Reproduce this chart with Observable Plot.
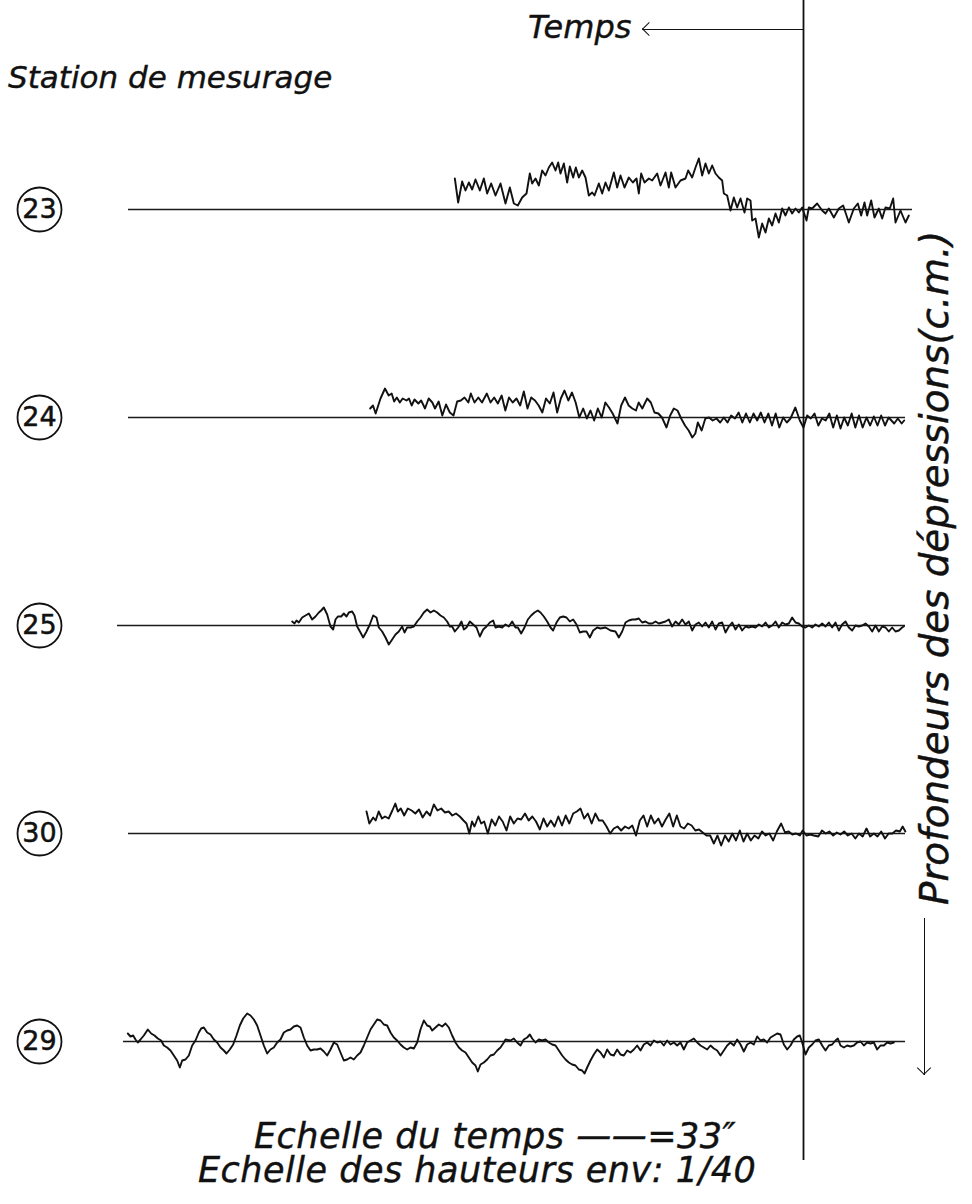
<!DOCTYPE html>
<html>
<head>
<meta charset="utf-8">
<script src="https://cdn.jsdelivr.net/npm/d3@7"></script>
<script src="https://cdn.jsdelivr.net/npm/@observablehq/plot@0.6"></script>
<style>
  body { margin: 0; background: #fff; }
  #page { position: relative; width: 972px; height: 1204px; overflow: hidden; background: #fff; color: #111;
          font-family: "DejaVu Sans", sans-serif; font-style: italic; }
  #chart, #refline { position: absolute; left: 0; top: 0; }
  #refline { pointer-events: none; }
  .lbl { position: absolute; white-space: nowrap; -webkit-text-stroke: 0.4px #111; }
  .arrow { position: absolute; height: 0; border-top: 1.7px solid #111; }
  .arrow::before { content: ""; position: absolute; left: 2px; top: -6.4px; width: 9px; height: 9px;
                   border-left: 1.7px solid #111; border-bottom: 1.7px solid #111; transform: rotate(45deg); }
</style>
</head>
<body>
<div id="page">
  <div id="chart"></div>
  <div id="refline"></div>
  <div class="lbl" style="left:528px; top:11px; font-size:32px; line-height:32px;">Temps</div>
  <div class="arrow" style="left:642px; top:29px; width:161px;"></div>
  <div class="lbl" style="left:8px; top:62px; font-size:31px; line-height:31px;">Station de mesurage</div>
  <div class="lbl" style="left:916px; top:1075px; font-size:38.8px; line-height:38.8px; transform-origin:0 0; transform:rotate(-90deg); display:flex; align-items:flex-start;">
    <span class="arrow" style="position:relative; width:157px; margin-top:8px;"></span><span style="margin-left:13px;">Profondeurs des dépressions(c.m.)</span>
  </div>
  <div class="lbl" style="left:198px; top:1119px; font-size:35px; line-height:34px; letter-spacing:0.5px; white-space:pre; text-indent:56px;">Echelle du temps ——=33″
Echelle des hauteurs env: 1/40</div>
</div>
<script>
// Stations (top to bottom)
const stations = ["23", "24", "25", "30", "29"];

// Reference lines: time (s) at the left and right ends (time runs leftwards, 0 = vertical reference line)
const baselineStart = [405, 405, 411.6, 405, 408];
const baselineEnd = [-65.4, -61.2, -61.2, -61.2, -61.2];

// Reference instant (vertical line), in seconds
const referenceTime = [0];

// Traces: [time (s), depression depth (cm, positive downwards)]
const trace23 = [[209.2,-31],[207.2,-7],[204.8,-28],[202.8,-19],[200.8,-27],[198.8,-20],[196.8,-30],[194.2,-19],[191.8,-31],[189.8,-16],[187.4,-26],[184.8,-14],[181.8,-26],[178.8,-6],[176.2,-22],[173.8,-6],[171.4,-4],[168.8,-12],[166.2,-16],[164.2,-36],[162.8,-26],[160.8,-31],[158.8,-24],[156.8,-39],[154.8,-34],[152.8,-42],[150.8,-47],[148.8,-39],[147.2,-47],[145.8,-36],[143.8,-46],[141.8,-27],[140.2,-43],[138.2,-32],[136.6,-42],[134.8,-32],[132.8,-39],[130.8,-32],[128.8,-14],[126.8,-17],[125.4,-14],[122.8,-26],[120.8,-16],[118.8,-27],[116.8,-19],[113.8,-37],[111.8,-22],[109.8,-34],[107.4,-22],[104.8,-32],[102.4,-27],[100.2,-31],[98.8,-16],[97.4,-36],[95.4,-27],[92.8,-31],[90.8,-29],[87.8,-36],[85.8,-24],[82.8,-37],[80.8,-22],[79.4,-37],[76.8,-22],[73.8,-29],[70.8,-31],[69.2,-39],[66.8,-32],[64.8,-42],[62.8,-51],[60.8,-34],[58.8,-46],[56.8,-36],[54.8,-44],[52.8,-36],[50.8,-32],[48.8,-29],[47.8,-16],[45.8,-14],[43.8,1],[41.8,-12],[39.8,-2],[37.8,-11],[35.4,3],[33.8,-11],[31.8,-9],[30.8,11],[28.8,9],[26.8,28],[24.8,14],[22.8,23],[20.8,9],[18.8,16],[16.8,4],[14.8,13],[12.8,-1],[10.8,6],[8.8,-2],[6.8,4],[4.8,-1],[2.8,3],[0.8,-2],[-1.8,11],[-3.2,-2],[-5.2,-1],[-8.2,-6],[-11.2,1],[-13.2,4],[-15.2,-1],[-18.2,8],[-21.2,-1],[-23.8,-4],[-27.2,13],[-30.2,-1],[-32.6,-6],[-34.6,6],[-36.6,-7],[-38.2,6],[-40.6,-9],[-42.6,8],[-45.2,-1],[-47.2,9],[-49.2,-2],[-51.8,-1],[-53.8,-11],[-55.2,13],[-58.2,1],[-61.2,13],[-63.2,6]];

const trace24 = [[260,-9],[258.3,-12],[256.7,-4],[253.8,-19],[251.1,-29],[248.9,-22],[247.1,-24],[245.6,-16],[244,-20],[242.2,-15],[240.5,-19],[238.2,-17],[236.7,-19],[235.1,-12],[233.4,-18],[231.1,-14],[229.4,-17],[227.1,-9],[224.9,-19],[222.7,-15],[221.1,-9],[218.9,-16],[216.7,-2],[214.5,-13],[212.2,-5],[210,-2],[207.8,-16],[205.6,-17],[203.4,-20],[201.1,-15],[199.6,-24],[197.4,-15],[195.1,-20],[192.9,-15],[190,-24],[187.8,-15],[185.6,-20],[183.4,-14],[181.1,-22],[178.9,-7],[176.7,-20],[174.5,-15],[172.2,-19],[170,-12],[167.8,-26],[165.6,-9],[163.4,-20],[161.1,-17],[158.9,-12],[156.7,-5],[154.5,-19],[152.2,-14],[150,-25],[147.8,-5],[145.6,-19],[143.4,-27],[141.1,-17],[138.9,-25],[136.7,-15],[134.5,0],[132.2,-9],[130,1],[127.8,-7],[125.6,3],[123.4,-9],[121.1,0],[118.9,-15],[116.7,-10],[114.5,-4],[111.6,6],[109.4,-12],[107.1,-20],[104.9,-12],[102.7,-9],[100.5,-7],[98.9,-15],[96.7,-9],[93.8,-19],[91.6,-15],[89.4,-5],[87.1,-4],[84.9,0],[82.2,10],[80,-2],[77.8,-9],[75.6,-7],[73.4,1],[71.1,8],[68.9,13],[66.7,20],[64.9,16],[63.4,5],[61.1,13],[58.9,1],[56.7,0],[54.5,3],[52.2,1],[50,5],[47.8,0],[45.6,5],[43.4,-2],[41.1,1],[38.9,-5],[36.7,5],[34.5,-4],[32.2,5],[30,-4],[27.8,3],[25.6,-5],[23.4,5],[21.1,-4],[18.9,8],[16.7,-4],[14.5,10],[12.2,0],[10,5],[7.8,1],[4.9,-10],[2.2,3],[0,10],[-2.2,-2],[-4.4,1],[-6.6,-4],[-8.9,8],[-11.1,1],[-13.3,3],[-15.5,-4],[-17.8,10],[-20,-2],[-22.2,11],[-24.4,0],[-26.6,8],[-28.9,-4],[-31.1,10],[-33.3,-2],[-35.5,10],[-37.8,0],[-40,8],[-42.2,-1],[-44.4,8],[-46.6,-2],[-48.9,8],[-51.1,0],[-54.4,6],[-56.6,1],[-58.9,6],[-60.4,3]];

const trace25 = [[306.8,-4],[305.4,-2],[304.2,-5],[302.8,-3],[300.8,-8],[298.8,-10],[296.8,-12],[294.8,-6],[292.8,-9],[290.8,-13],[289.4,-15],[287.8,-18],[285.8,-11],[283.8,1],[282.2,4],[280.8,-6],[279.4,-9],[277.4,-9],[275.8,-12],[274.2,-9],[272.8,-13],[270.8,-14],[269.4,-10],[267.8,1],[265.8,7],[264.2,12],[262.2,6],[260.2,-1],[258.2,-10],[256.2,-8],[254.8,2],[252.8,6],[250.8,12],[248.8,19],[246.8,14],[244.8,9],[242.8,6],[240.8,1],[239.4,7],[237.8,2],[235.8,2],[233.8,1],[231.8,-4],[229.8,-8],[227.8,-13],[225.8,-16],[223.8,-13],[221.8,-15],[219.8,-13],[217.8,-10],[215.8,-8],[213.8,-4],[212.2,1],[210.8,1],[209.2,6],[207.2,2],[205.2,-4],[203.8,4],[202.2,2],[200.2,-4],[198.2,-1],[196.2,2],[194.2,11],[192.2,4],[190.2,1],[188.2,-3],[186.2,-5],[184.8,2],[182.8,1],[180.8,2],[178.8,-1],[176.8,1],[174.8,-4],[172.8,2],[171.4,2],[169.4,8],[167.4,2],[165.4,-6],[163.4,-10],[161.4,-13],[159.4,-15],[157.8,-13],[155.8,-9],[153.8,-4],[151.8,2],[150.2,5],[148.2,-3],[146.2,-8],[144.2,-9],[142.2,-8],[140.2,-4],[138.2,-6],[136.2,-1],[134.2,7],[132.2,6],[130.2,6],[128.2,12],[126.2,5],[123.8,2],[121.8,3],[118.8,2],[115.8,5],[112.8,6],[110.8,12],[108.8,6],[106.8,-3],[104.8,-5],[102.8,-6],[100.8,-6],[98.8,-7],[96.8,-3],[94.8,-4],[92.8,-2],[90.8,-2],[88.8,-4],[86.8,-2],[84.8,-3],[82.8,-4],[80.8,-6],[78.8,1],[76.8,-4],[74.8,-1],[72.8,-6],[70.8,-1],[68.8,-4],[66.8,5],[64.8,-1],[62.8,-3],[60.8,1],[58.8,-3],[56.8,2],[54.8,-4],[52.8,4],[50.8,-2],[48.8,-3],[46.8,7],[44.8,1],[42.8,-3],[40.8,4],[38.8,-1],[36.8,5],[34.8,1],[32.8,2],[30.8,1],[28.8,2],[26.8,-1],[24.8,1],[22.8,-3],[20.8,2],[18.8,0],[16.8,-4],[14.8,2],[12.8,-3],[10.8,-1],[8.8,-2],[6.8,-8],[4.8,-3],[2.8,-2],[0.8,1],[-1.2,2],[-3.2,0],[-5.2,2],[-7.2,-1],[-9.2,1],[-11.2,-2],[-13.2,1],[-15.2,-3],[-17.2,2],[-19.2,-3],[-21.2,5],[-23.2,-1],[-25.2,-4],[-27.2,2],[-29.2,5],[-31.2,0],[-33.2,1],[-35.2,0],[-37.2,-2],[-39.2,1],[-41.2,6],[-43.2,0],[-45.2,6],[-47.2,1],[-49.2,2],[-51.2,6],[-53.2,2],[-55.2,6],[-57.2,5],[-59.2,2],[-60.2,1]];

const trace30 = [[262.2,-22],[260.5,-10],[258.2,-16],[256.7,-13],[254.9,-22],[252.9,-15],[251.1,-17],[248.9,-15],[246.7,-23],[244.9,-30],[243.4,-22],[241.6,-25],[239.6,-18],[237.4,-25],[235.1,-23],[232.9,-20],[230.7,-24],[228.5,-16],[226.2,-22],[224,-18],[221.8,-29],[219.6,-23],[217.4,-25],[215.1,-21],[212.9,-22],[210.7,-18],[208.5,-20],[206.2,-17],[204,-13],[202.2,-10],[200.5,0],[198.9,-12],[197.4,-7],[195.1,-17],[193.4,-10],[191.6,-12],[189.4,0],[187.1,-14],[184.9,-8],[182.7,-17],[180.5,-12],[178.2,-3],[176,-17],[173.8,-10],[171.6,-15],[169.4,-14],[167.1,-20],[164.9,-13],[162.7,-17],[160.5,-12],[158.2,-4],[156,-15],[153.8,-7],[151.6,-13],[149.4,-7],[147.1,-17],[144.9,-8],[142.7,-18],[140.5,-10],[138.2,-20],[136,-22],[133.8,-25],[131.6,-15],[129.4,-20],[127.1,-10],[124.9,-20],[122.7,-13],[120.5,-13],[118.2,-7],[116,0],[113.8,-5],[111.6,-7],[109.4,-3],[107.1,-7],[104.9,-5],[102.7,-8],[100.5,2],[98.2,-13],[96,-18],[93.8,-7],[91.6,-18],[89.4,-10],[87.1,-15],[84.9,-7],[82.7,-14],[80.5,-20],[78.2,-7],[76,-18],[73.8,-7],[71.6,-5],[69.4,-10],[67.1,-8],[64.9,-3],[62.7,-4],[60.5,-1],[58.2,2],[56,2],[53.8,10],[51.6,2],[49.4,12],[47.1,2],[44.9,8],[42.7,0],[40.5,7],[38.2,-3],[36,8],[33.8,0],[31.6,7],[29.4,2],[27.1,5],[24.9,-2],[22.7,2],[20.5,0],[18.2,7],[16,-2],[13.4,-10],[11.1,-1],[8.9,-2],[6.7,1],[4.5,0],[2.2,2],[0.5,-3],[-1.8,2],[-4,1],[-6.2,2],[-8.9,3],[-11.1,-3],[-13.3,0],[-15.5,-2],[-17.8,2],[-20,-1],[-22.2,1],[-24.4,-2],[-26.6,2],[-28.9,0],[-31.1,5],[-33.3,0],[-35.5,3],[-37.8,-5],[-40,3],[-42.2,0],[-44.4,3],[-46.6,-2],[-48.9,5],[-51.1,0],[-53.3,0],[-55.5,-3],[-57.8,-2],[-59.5,-7],[-61.1,-2]];

const trace29 = [[405.4,-8],[403.8,-5],[402.2,-6],[400.8,-2],[399.4,1],[397.8,-2],[395.8,-6],[393.4,-12],[391.4,-8],[389.4,-6],[387.4,-3],[385.4,-1],[383.8,4],[381.8,6],[379.8,9],[377.8,14],[375.8,19],[374.2,26],[372.8,19],[370.8,18],[368.8,14],[366.8,4],[364.8,-1],[362.8,-9],[361.4,-13],[359.8,-14],[357.8,-9],[355.8,-7],[353.8,-2],[351.8,1],[349.8,6],[347.8,9],[346.2,12],[344.2,8],[342.2,3],[340.2,-6],[338.2,-16],[336.2,-23],[333.8,-28],[331.8,-26],[329.8,-22],[327.8,-16],[325.8,-6],[323.8,4],[321.8,12],[319.8,8],[317.8,6],[315.8,1],[313.8,-2],[311.8,-9],[309.8,-11],[307.8,-12],[305.8,-15],[303.8,-16],[301.8,-14],[299.8,-4],[297.8,4],[295.8,9],[293.8,8],[291.8,8],[289.8,7],[287.8,10],[285.8,14],[283.8,8],[281.8,1],[279.8,3],[277.8,11],[275.8,19],[273.8,18],[271.8,16],[269.8,18],[267.8,14],[265.8,11],[263.8,4],[261.8,-4],[259.8,-12],[257.8,-17],[255.8,-22],[253.8,-21],[251.8,-17],[249.8,-16],[247.8,-9],[245.8,-4],[243.8,-1],[241.8,3],[239.8,6],[237.8,8],[235.8,6],[233.8,7],[231.8,1],[229.8,-12],[227.8,-21],[225.8,-16],[224.2,-15],[222.8,-11],[220.8,-14],[218.8,-17],[216.8,-15],[214.8,-18],[212.8,-14],[210.8,-6],[208.8,1],[206.8,6],[204.8,9],[202.8,11],[200.8,16],[198.8,21],[196.8,24],[195.4,30],[193.8,23],[191.8,21],[189.8,18],[187.8,14],[185.8,13],[183.8,9],[181.8,6],[179.8,1],[178.8,-2],[175.8,-1],[173.8,-3],[171.8,1],[169.8,4],[167.8,-2],[165.8,-4],[164.2,-7],[162.8,-3],[160.8,1],[158.8,-2],[156.8,-1],[154.8,-2],[152.8,1],[150.8,3],[148.8,4],[146.8,9],[144.8,14],[142.8,18],[140.8,21],[138.8,23],[136.8,24],[134.8,28],[132.8,29],[131.4,32],[129.8,26],[127.8,19],[125.8,13],[123.8,8],[121.8,11],[119.8,16],[117.8,8],[115.8,13],[113.8,14],[111.8,8],[109.8,13],[107.8,14],[105.8,9],[103.8,11],[101.8,8],[99.8,4],[97.8,9],[95.8,3],[93.8,1],[91.8,4],[89.8,-1],[87.8,1],[85.8,0],[83.8,4],[81.8,-1],[79.8,3],[77.8,1],[75.8,4],[73.8,1],[71.8,8],[69.8,1],[67.8,-1],[65.8,-3],[63.8,1],[61.8,4],[59.8,6],[57.8,8],[55.8,4],[53.8,7],[51.8,9],[49.8,14],[47.8,9],[45.8,4],[43.8,1],[41.8,4],[39.8,-2],[37.8,3],[35.8,10],[33.8,3],[31.8,1],[29.8,3],[27.8,-5],[25.8,-1],[23.8,-2],[21.8,1],[19.8,-4],[17.8,-6],[15.8,-8],[13.8,-7],[11.8,3],[9.8,8],[7.8,4],[5.8,-2],[3.8,-5],[2.2,-6],[0.8,1],[-1.2,13],[-3.2,6],[-5.2,3],[-7.2,-1],[-9.2,-2],[-11.2,4],[-13.2,9],[-15.2,4],[-17.2,3],[-19.2,-1],[-20.6,-3],[-22.2,4],[-24.2,6],[-26.2,4],[-28.2,5],[-30.2,4],[-32.2,1],[-34.2,0],[-36.2,4],[-38.2,1],[-40.2,2],[-42.2,1],[-44.2,8],[-46.2,4],[-48.2,4],[-50.2,1],[-52.2,2],[-54.2,1]];

const traces = [trace23, trace24, trace25, trace30, trace29];
const traceRows = stations.flatMap((s, i) => traces[i].map(([t, d]) => ({station: s, t, d})));
const baseRows = stations.map((s, i) => ({station: s, from: baselineStart[i], to: baselineEnd[i]}));

const timeDomain = [481.8, -101.4];

const chart = Plot.plot({
  width: 972,
  height: 1204,
  marginTop: 105, marginBottom: 59, marginLeft: 0, marginRight: 0,
  facet: {marginTop: 0, marginRight: 0, marginBottom: 0, marginLeft: 0},
  x: {domain: timeDomain, axis: null},
  y: {domain: [-104, 104], reverse: true, axis: null},
  fy: {domain: stations, padding: 0, axis: null},
  style: {background: "transparent", overflow: "visible"},
  marks: [
    Plot.ruleY(baseRows, {fy: "station", y: 0, x1: "from", x2: "to", stroke: "#1a1a1a", strokeWidth: 1.4}),
    Plot.line(traceRows, {fy: "station", x: "t", y: "d", stroke: "#111", strokeWidth: 1.9, strokeLinejoin: "round"}),
    Plot.dot(stations, {fy: (d) => d, frameAnchor: "left", dx: 39, r: 22, stroke: "#111", strokeWidth: 1.8, fill: "white"}),
    Plot.text(stations, {fy: (d) => d, frameAnchor: "left", dx: 39, text: (d) => d, textAnchor: "middle", fontSize: 27,
      fill: "#111", stroke: "#111", strokeWidth: 0.5, fontFamily: "DejaVu Sans", fontStyle: "normal"})
  ]
});
document.getElementById("chart").appendChild(chart);

// Vertical reference line, drawn across the whole sheet on the same time scale
const ref = Plot.plot({
  width: 972,
  height: 1204,
  marginTop: 0, marginBottom: 44, marginLeft: 0, marginRight: 0,
  x: {domain: timeDomain, axis: null},
  style: {background: "transparent"},
  marks: [
    Plot.ruleX(referenceTime, {stroke: "#111", strokeWidth: 1.8})
  ]
});
document.getElementById("refline").appendChild(ref);
</script>
</body>
</html>
